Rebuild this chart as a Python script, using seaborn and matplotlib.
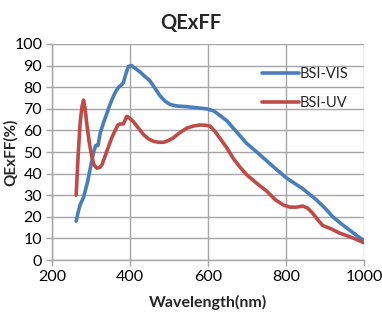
import matplotlib
matplotlib.use("Agg")
import matplotlib.pyplot as plt
import seaborn as sns
import pandas as pd

vis_wl = [262, 267, 272, 281, 291, 300, 307, 312, 318, 324, 333, 341, 350, 358, 365, 371, 378, 383, 390, 396, 404, 415,
          426, 438, 451, 464, 477, 490, 503, 520, 545, 570, 596, 615, 630, 648, 665, 682, 699, 725, 750, 775, 801, 822,
          843, 860, 877, 900, 920, 940, 962, 980, 1000]
vis_qe = [18, 22, 25.5, 29, 36, 44, 50, 53, 53, 59, 64, 68, 72.5, 76, 78.5, 80, 81, 82, 86.5, 89.6, 90, 88.5,
          87, 85, 83, 79.5, 76, 73.5, 72, 71.3, 71, 70.5, 70, 69, 67, 64.5, 61, 57.5, 54, 50, 46, 42, 38, 35.5,
          33, 30.5, 28, 24, 20, 17, 14, 11.5, 9]

uv_wl = [262, 267, 272, 277, 281, 285, 290, 296, 302, 308, 315, 322, 328, 336, 345, 353, 362, 369, 375, 383, 388, 392,
         400, 409, 422, 435, 448, 460, 473, 486, 498, 511, 528, 545, 562, 580, 593, 605, 618, 630, 648, 665, 682,
         699, 725, 750, 772, 793, 810, 827, 843, 856, 869, 882, 894, 915, 937, 968, 1000]
uv_qe = [30, 48, 63, 71, 74, 70, 62, 54, 48, 44, 42.5, 42.8, 44, 48, 52.5, 56.5, 60, 62.5, 63, 63, 65, 66.5,
         65.5, 64, 61, 58, 56, 55, 54.5, 54.5, 55.3, 56.5, 59, 61, 62, 62.5, 62.4, 62, 59.5, 56.5, 52, 47, 43,
         39.5, 35.5, 32, 28, 25.5, 24.5, 24.5, 25, 24, 21.5, 18.5, 16, 14.5, 12.5, 10.5, 8]

vis_label = "BSI-VIS"
uv_label = "BSI-UV"
x_ticks = [200, 400, 600, 800, 1000]
y_ticks = list(range(0, 101, 10))

df = pd.concat([
    pd.DataFrame({"Wavelength": vis_wl, "QE": vis_qe, "Series": vis_label}),
    pd.DataFrame({"Wavelength": uv_wl, "QE": uv_qe, "Series": uv_label}),
], ignore_index=True)

sns.set_style("white")
plt.rcParams["font.family"] = ["Lato", "DejaVu Sans"]

fig = plt.figure(figsize=(3.82, 3.33), dpi=100)
ax = fig.add_axes([0.136, 0.219, 0.817, 0.649])

sns.lineplot(data=df, x="Wavelength", y="QE", hue="Series",
             palette={vis_label: "#4A7EBB", uv_label: "#BE4B48"},
             estimator=None, sort=False, linewidth=2.6, ax=ax, legend=True,
             zorder=3)

ax.set_xlim(200, 1000)
ax.set_ylim(0, 100)
ax.set_xticks(x_ticks)
ax.set_yticks(y_ticks)
ax.grid(True, color="#A6A6A6", linewidth=1.0)
ax.set_axisbelow(True)
for side in ["top", "right"]:
    ax.spines[side].set_visible(False)
for side in ["left", "bottom"]:
    ax.spines[side].set_color("#A6A6A6")
    ax.spines[side].set_linewidth(1.0)
ax.tick_params(axis="both", which="major", length=4, width=1.0, color="#A6A6A6",
               labelsize=11.5, pad=3, direction="out", labelcolor="black")
ax.tick_params(axis="both", bottom=True, left=True)

ax.set_xlabel("Wavelength(nm)", fontsize=11.5, fontweight="bold")
ax.set_ylabel("QExFF(%)", fontsize=11, fontweight="bold")
ax.yaxis.set_label_coords(-0.131, 0.5)
ax.xaxis.set_label_coords(0.5, -0.194)
ax.xaxis.label.set_va("center")
ax.yaxis.label.set_va("center")
fig.text(0.5, 0.93, "QExFF", ha="center", va="center", fontsize=14.5, fontweight="bold")

leg = ax.legend(loc="upper right", bbox_to_anchor=(0.97, 0.92), frameon=False,
                fontsize=10.5, handlelength=2.5, handletextpad=0.1, labelspacing=1.0,
                borderaxespad=0)
for line in leg.get_lines():
    line.set_linewidth(2.6)

fig.savefig("out.png", dpi=100)
